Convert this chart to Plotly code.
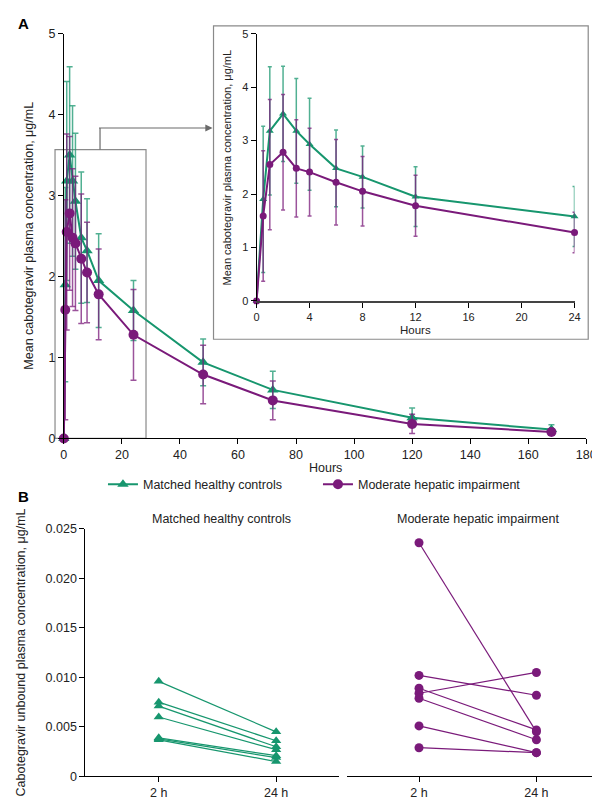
import plotly.graph_objects as go

# ---------------- data ----------------
hours = [0, 0.5, 1, 2, 3, 4, 6, 8, 12, 24, 48, 72, 120, 168]
green_mean = [0, 1.90, 3.18, 3.50, 3.18, 2.93, 2.48, 2.32, 1.95, 1.58, 0.94, 0.60, 0.255, 0.11]
purple_mean = [0, 1.59, 2.55, 2.78, 2.48, 2.41, 2.22, 2.05, 1.78, 1.28, 0.79, 0.47, 0.18, 0.08]
sd_green_main = [0, 1.20, 1.23, 1.09, 0.93, 0.84, 0.81, 0.64, 0.58, 0.37, 0.29, 0.23, 0.12, 0.06]
sd_purple_main = [0, 1.36, 1.21, 0.95, 0.85, 0.83, 0.80, 0.62, 0.56, 0.56, 0.36, 0.24, 0.12, 0.04]

inset_hours = hours[:10]
sd_green_inset = [0, 1.37, 1.20, 0.89, 0.98, 0.86, 0.72, 0.58, 0.56, 0.56]
sd_purple_inset = [0, 1.22, 1.22, 1.08, 0.91, 0.82, 0.80, 0.65, 0.57, 0.38]

timepoints = ["2 h", "24 h"]
green_2h = [0.0096, 0.0075, 0.0071, 0.0060, 0.0039, 0.0038, 0.0037]
green_24h = [0.0045, 0.0036, 0.0030, 0.0027, 0.0021, 0.0019, 0.0015]
purple_2h = [0.0236, 0.0102, 0.0089, 0.0084, 0.0079, 0.0051, 0.0029]
purple_24h = [0.0045, 0.0082, 0.0047, 0.0105, 0.0037, 0.0024, 0.0024]

names = ["Matched healthy controls", "Moderate hepatic impairment"]

GREEN = "#17966e"
PURPLE = "#7a1a7a"
GREEN_E = "rgba(23,150,110,0.75)"
PURPLE_E = "rgba(122,26,122,0.75)"
FONT = "Arial, Liberation Sans, sans-serif"

W, H = 600, 800
def px(x):
    return x / W
def py(y):
    return 1 - y / H

fig = go.Figure()

# ---------- Panel A main ----------
fig.add_trace(go.Scatter(
    x=hours, y=green_mean, name=names[0], mode="lines+markers",
    line=dict(color=GREEN, width=2), marker=dict(symbol="triangle-up", size=10, color=GREEN),
    error_y=dict(type="data", array=sd_green_main, color=GREEN_E, thickness=1.5, width=3),
    xaxis="x", yaxis="y", cliponaxis=False))
fig.add_trace(go.Scatter(
    x=hours, y=purple_mean, name=names[1], mode="lines+markers",
    line=dict(color=PURPLE, width=2), marker=dict(symbol="circle", size=10, color=PURPLE),
    error_y=dict(type="data", array=sd_purple_main, color=PURPLE_E, thickness=1.5, width=3),
    xaxis="x", yaxis="y", cliponaxis=False))

# ---------- Panel A inset ----------
fig.add_trace(go.Scatter(
    x=inset_hours, y=green_mean[:10], mode="lines+markers", showlegend=False,
    line=dict(color=GREEN, width=2), marker=dict(symbol="triangle-up", size=7, color=GREEN),
    error_y=dict(type="data", array=sd_green_inset, color=GREEN_E, thickness=1.5, width=2),
    xaxis="x2", yaxis="y2", cliponaxis=False))
fig.add_trace(go.Scatter(
    x=inset_hours, y=purple_mean[:10], mode="lines+markers", showlegend=False,
    line=dict(color=PURPLE, width=2), marker=dict(symbol="circle", size=7, color=PURPLE),
    error_y=dict(type="data", array=sd_purple_inset, color=PURPLE_E, thickness=1.5, width=2),
    xaxis="x2", yaxis="y2", cliponaxis=False))

# ---------- Panel B ----------
for a, b in zip(green_2h, green_24h):
    fig.add_trace(go.Scatter(
        x=timepoints, y=[a, b], mode="lines+markers", showlegend=False,
        line=dict(color=GREEN, width=1.2), marker=dict(symbol="triangle-up", size=9, color=GREEN),
        xaxis="x3", yaxis="y3", cliponaxis=False))
for a, b in zip(purple_2h, purple_24h):
    fig.add_trace(go.Scatter(
        x=timepoints, y=[a, b], mode="lines+markers", showlegend=False,
        line=dict(color=PURPLE, width=1.2), marker=dict(symbol="circle", size=9, color=PURPLE),
        xaxis="x4", yaxis="y4", cliponaxis=False))

axis_common = dict(showgrid=False, zeroline=False, showline=True, linecolor="black",
                   linewidth=1, ticks="outside", ticklen=5, tickcolor="black",
                   tickfont=dict(size=12.5, color="#222"))

fig.update_layout(
    width=W, height=H, margin=dict(l=0, r=0, t=0, b=0),
    paper_bgcolor="white", plot_bgcolor="rgba(0,0,0,0)",
    font=dict(family=FONT, size=12, color="#222"),
    xaxis=dict(axis_common, domain=[px(54), px(588)], range=[0, 180],
               tickvals=list(range(0, 181, 20)), anchor="y"),
    yaxis=dict(axis_common, domain=[py(431), py(19)], range=[0, 5],
               tickvals=[0, 1, 2, 3, 4, 5], anchor="x"),
    xaxis2=dict(axis_common, domain=[px(251), px(576)], range=[0, 24],
                tickvals=list(range(0, 25, 4)), anchor="y2", linewidth=1.5, linecolor="#444",
                tickfont=dict(size=11, color="#222")),
    yaxis2=dict(axis_common, domain=[py(291), py(19)], range=[0, 5],
                tickvals=[0, 1, 2, 3, 4, 5], anchor="x2",
                tickfont=dict(size=11, color="#222")),
    xaxis3=dict(axis_common, domain=[px(76), px(335)], range=[-0.625, 1.533],
                type="category", anchor="y3"),
    yaxis3=dict(axis_common, domain=[py(775), py(523)], range=[0, 0.025],
                tickvals=[0, 0.005, 0.01, 0.015, 0.02, 0.025],
                ticktext=["0", "0.005", "0.010", "0.015", "0.020", "0.025"], anchor="x3"),
    xaxis4=dict(axis_common, domain=[px(343), px(598)], range=[-0.617, 1.508],
                type="category", anchor="y4"),
    yaxis4=dict(domain=[py(775), py(523)], range=[0, 0.025], anchor="x4",
                showline=False, showgrid=False, zeroline=False, showticklabels=False, ticks=""),
    legend=dict(orientation="h", x=px(94), y=py(478), xanchor="left", yanchor="middle",
                font=dict(size=12.5, color="#222"), entrywidth=170, entrywidthmode="pixels",
                bgcolor="rgba(0,0,0,0)", itemwidth=30),
    showlegend=True,
)

# inset frame, zoom rectangle, connector
fig.add_shape(type="rect", xref="paper", yref="paper", x0=px(207), x1=px(590), y0=py(330), y1=py(11),
              line=dict(color="#8a8a8a", width=1.2), fillcolor="rgba(0,0,0,0)", layer="below")
fig.add_shape(type="rect", xref="paper", yref="paper", x0=px(45), x1=px(138), y0=py(431), y1=py(137),
              line=dict(color="#8a8a8a", width=1.2), fillcolor="rgba(0,0,0,0)", layer="below")
fig.add_shape(type="line", xref="paper", yref="paper", x0=px(91), x1=px(91), y0=py(137), y1=py(115),
              line=dict(color="#6a6a6a", width=1.2))
fig.add_annotation(xref="paper", yref="paper", x=px(206), y=py(115), ax=-(206 - 91), ay=0,
                   axref="pixel", ayref="pixel", showarrow=True, arrowhead=2, arrowsize=1.2,
                   arrowwidth=1.2, arrowcolor="#6a6a6a", text="")

# text annotations
ann = [
    dict(x=px(5), y=py(9), text="<b>A</b>", font=dict(size=15, color="black"), xanchor="left"),
    dict(x=px(5), y=py(490), text="<b>B</b>", font=dict(size=15, color="black"), xanchor="left"),
    dict(x=px(18), y=py(225), text="Mean cabotegravir plasma concentration, μg/mL",
         textangle=-90, font=dict(size=12.5)),
    dict(x=px(221), y=py(155), text="Mean cabotegravir plasma concentration, μg/mL",
         textangle=-90, font=dict(size=11)),
    dict(x=px(321), y=py(461), text="Hours", font=dict(size=12.5)),
    dict(x=px(413), y=py(321), text="Hours", font=dict(size=11.5)),
    dict(x=px(10), y=py(649), text="Cabotegravir unbound plasma concentration, μg/mL",
         textangle=-90, font=dict(size=12.5)),
    dict(x=px(215), y=py(513), text=names[0], font=dict(size=12.5)),
    dict(x=px(477), y=py(513), text=names[1], font=dict(size=12.5)),
]
for a in ann:
    a.setdefault("xanchor", "center")
    fig.add_annotation(xref="paper", yref="paper", yanchor="middle", showarrow=False, **a)

fig.write_html("out.html")
